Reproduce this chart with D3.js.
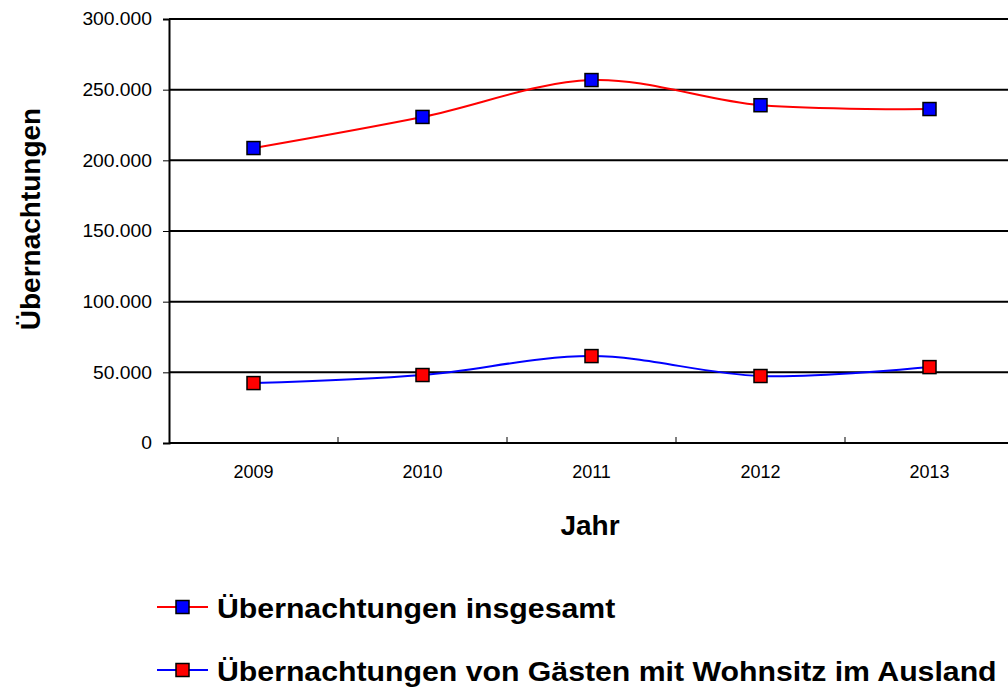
<!DOCTYPE html>
<html>
<head>
<meta charset="utf-8">
<script src="https://cdn.jsdelivr.net/npm/d3@7"></script>
<style>
  body { margin: 0; background: #fff; }
  svg { font-family: "Liberation Sans", Arial, sans-serif; }
</style>
</head>
<body>
<div id="chart"></div>
<script>
var svgWidth = 1008;
var svgHeight = 693;

// data
var years = ["2009", "2010", "2011", "2012", "2013"];
var insgesamt = [208700, 230700, 256800, 239000, 236300];
var ausland = [42400, 48100, 61500, 47400, 53700];
var yTicks = [0, 50000, 100000, 150000, 200000, 250000, 300000];
var seriesNames = ["Übernachtungen insgesamt", "Übernachtungen von Gästen mit Wohnsitz im Ausland"];

var plot = { left: 169, right: 1014, top: 19, bottom: 443 };

var svg = d3.select("#chart")
  .append("svg")
  .attr("width", svgWidth)
  .attr("height", svgHeight);

// the scanned original is a bit wider than the font, stretch text slightly
function stretch(sel, k) {
  sel.each(function() {
    var w = this.getComputedTextLength();
    d3.select(this)
      .attr("textLength", w * k)
      .attr("lengthAdjust", "spacingAndGlyphs");
  });
}

var x = d3.scaleBand()
  .domain(years)
  .range([plot.left, plot.right]);

var y = d3.scaleLinear()
  .domain([0, 300000])
  .range([plot.bottom, plot.top]);

var fmt = function(d) {
  return d === 0 ? "0" : d3.format(",")(d).replace(/,/g, ".");
};

// gridlines
svg.append("g")
  .selectAll("line")
  .data(yTicks)
  .enter()
  .append("line")
  .attr("x1", plot.left)
  .attr("x2", svgWidth)
  .attr("y1", d => y(d))
  .attr("y2", d => y(d))
  .attr("stroke", "#000")
  .attr("stroke-width", 2);

// y axis
var yAxis = svg.append("g")
  .attr("transform", `translate(${plot.left},0)`)
  .call(d3.axisLeft(y).tickValues(yTicks).tickFormat(fmt).tickSize(6).tickPadding(11));
yAxis.select(".domain").attr("stroke-width", 2);
yAxis.selectAll("text").attr("font-size", 18).attr("fill", "#000").call(stretch, 1.07);

// x axis, ticks between categories
var xAxis = svg.append("g")
  .attr("transform", `translate(0,${plot.bottom})`)
  .call(d3.axisBottom(x).tickSize(0).tickPadding(22));
xAxis.select(".domain").remove();
xAxis.selectAll("text").attr("font-size", 18).attr("fill", "#000");
svg.append("g")
  .selectAll("line")
  .data(years.slice(1))
  .enter()
  .append("line")
  .attr("x1", d => x(d))
  .attr("x2", d => x(d))
  .attr("y1", plot.bottom)
  .attr("y2", plot.bottom - 6)
  .attr("stroke", "#000")
  .attr("stroke-width", 1);

// titles
svg.append("text")
  .attr("transform", "translate(40,219) rotate(-90)")
  .attr("text-anchor", "middle")
  .attr("font-size", 28)
  .attr("font-weight", "bold")
  .text("Übernachtungen");

svg.append("text")
  .attr("x", 590)
  .attr("y", 535)
  .attr("text-anchor", "middle")
  .attr("font-size", 28)
  .attr("font-weight", "bold")
  .text("Jahr");

var line = d3.line()
  .x((d, i) => x(years[i]) + x.bandwidth() / 2)
  .y(d => y(d))
  .curve(d3.curveCatmullRom.alpha(0));

var series = [
  { values: insgesamt, line: "#ff0000", marker: "#0000ff" },
  { values: ausland, line: "#0000ff", marker: "#ff0000" }
];

series.forEach(function(s) {
  svg.append("path")
    .datum(s.values)
    .attr("d", line)
    .attr("fill", "none")
    .attr("stroke", s.line)
    .attr("stroke-width", 2);

  svg.append("g")
    .selectAll("rect")
    .data(s.values)
    .enter()
    .append("rect")
    .attr("x", (d, i) => x(years[i]) + x.bandwidth() / 2 - 6.5)
    .attr("y", d => y(d) - 6.5)
    .attr("width", 13)
    .attr("height", 13)
    .attr("fill", s.marker)
    .attr("stroke", "#000")
    .attr("stroke-width", 1.5);
});

// legend
var legend = svg.append("g");
series.forEach(function(s, i) {
  var ly = 607 + i * 63;
  legend.append("line")
    .attr("x1", 157).attr("x2", 208)
    .attr("y1", ly).attr("y2", ly)
    .attr("stroke", s.line)
    .attr("stroke-width", 2);
  legend.append("rect")
    .attr("x", 176).attr("y", ly - 6.5)
    .attr("width", 13).attr("height", 13)
    .attr("fill", s.marker)
    .attr("stroke", "#000")
    .attr("stroke-width", 1.5);
  legend.append("text")
    .attr("x", 217)
    .attr("y", ly + 11)
    .attr("font-size", 28)
    .attr("font-weight", "bold")
    .text(seriesNames[i])
    .call(stretch, 1.08);
});
</script>
</body>
</html>
